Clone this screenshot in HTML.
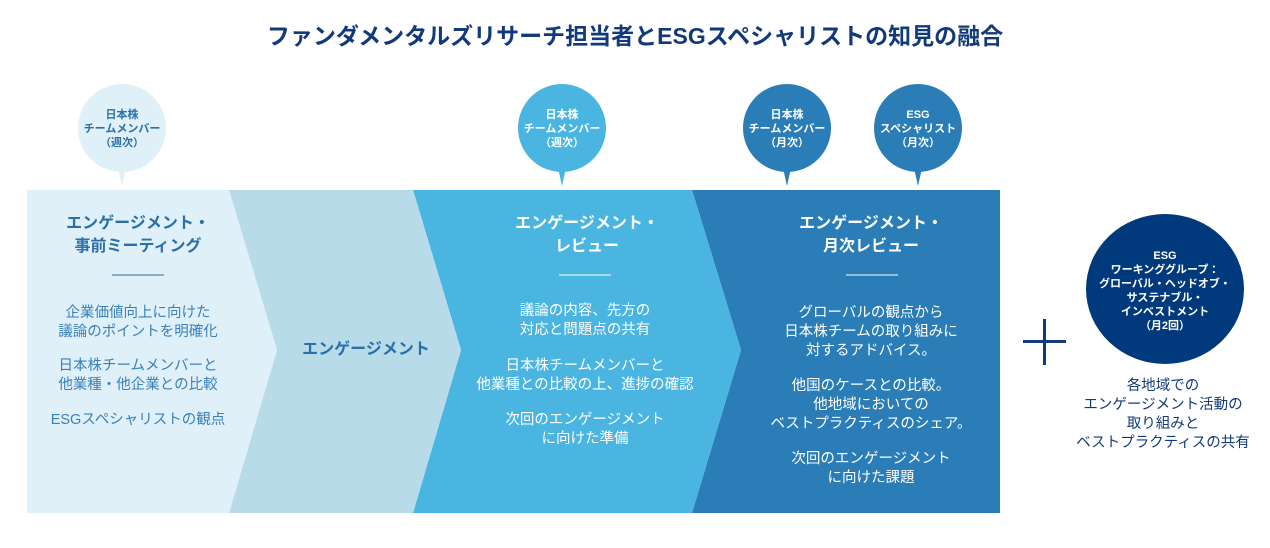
<!DOCTYPE html>
<html><head><meta charset="utf-8"><style>
body{margin:0;background:#fff;}
svg text{font-family:"Liberation Sans","Noto Sans CJK JP",sans-serif;}
</style></head><body>
<svg width="1270" height="543" viewBox="0 0 1270 543" xmlns="http://www.w3.org/2000/svg">
<text x="635" y="44" text-anchor="middle" font-size="23" font-weight="bold" fill="#12397a">ファンダメンタルズリサーチ担当者とESGスペシャリストの知見の融合</text>
<polygon points="692,190 1000,190 1000,513 692,513 741,350" fill="#2a7db7"/>
<polygon points="413,190 692,190 741,350 692,513 413,513 461,350" fill="#4bb5e2"/>
<polygon points="229,190 413,190 461,350 413,513 229,513 277,350" fill="#b8dbea"/>
<polygon points="27,190 229,190 277,350 229,513 27,513" fill="#dff0f8"/>
<g>
<circle cx="122" cy="128" r="44" fill="#dff0f8"/><polygon points="118,168 126,168 122,186" fill="#dff0f8"/>
<circle cx="562" cy="128" r="44" fill="#4bb5e2"/><polygon points="558,168 566,168 562,186" fill="#4bb5e2"/>
<circle cx="787" cy="128" r="44" fill="#2a7db7"/><polygon points="783,168 791,168 787,186" fill="#2a7db7"/>
<circle cx="918" cy="128" r="44" fill="#2a7db7"/><polygon points="914,168 922,168 918,186" fill="#2a7db7"/>
</g>
<g font-size="11" font-weight="bold" text-anchor="middle">
<g fill="#2a6fa8"><text x="122" y="118">日本株</text><text x="122" y="132">チームメンバー</text><text x="122" y="146">（週次）</text></g>
<g fill="#fff"><text x="562" y="118">日本株</text><text x="562" y="132">チームメンバー</text><text x="562" y="146">（週次）</text>
<text x="787" y="118">日本株</text><text x="787" y="132">チームメンバー</text><text x="787" y="146">（月次）</text>
<text x="918" y="118">ESG</text><text x="918" y="132">スペシャリスト</text><text x="918" y="146">（月次）</text></g>
</g>
<g font-size="16" font-weight="bold" text-anchor="middle">
<g fill="#2a6fa8"><text x="138" y="228">エンゲージメント・</text><text x="138" y="251">事前ミーティング</text>
<text x="366" y="354">エンゲージメント</text></g>
<g fill="#fff"><text x="587" y="228">エンゲージメント・</text><text x="587" y="251">レビュー</text>
<text x="871" y="228">エンゲージメント・</text><text x="871" y="251">月次レビュー</text></g>
</g>
<line x1="112" y1="275" x2="164" y2="275" stroke="#2a6fa8" stroke-width="1"/>
<line x1="559" y1="275" x2="611" y2="275" stroke="#fff" stroke-width="1"/>
<line x1="846" y1="275" x2="898" y2="275" stroke="#fff" stroke-width="1"/>
<g font-size="14.5" text-anchor="middle">
<g fill="#3a80bb"><text x="138" y="317">企業価値向上に向けた</text><text x="138" y="336">議論のポイントを明確化</text>
<text x="138" y="370">日本株チームメンバーと</text><text x="138" y="389">他業種・他企業との比較</text>
<text x="138" y="424">ESGスペシャリストの観点</text></g>
<g fill="#fff"><text x="585" y="315">議論の内容、先方の</text><text x="585" y="334">対応と問題点の共有</text>
<text x="585" y="370">日本株チームメンバーと</text><text x="585" y="389">他業種との比較の上、進捗の確認</text>
<text x="585" y="424">次回のエンゲージメント</text><text x="585" y="443">に向けた準備</text>
<text x="871" y="317">グローバルの観点から</text><text x="871" y="336">日本株チームの取り組みに</text><text x="871" y="355">対するアドバイス。</text>
<text x="871" y="390">他国のケースとの比較。</text><text x="871" y="409">他地域においての</text><text x="871" y="428">ベストプラクティスのシェア。</text>
<text x="871" y="463">次回のエンゲージメント</text><text x="871" y="482">に向けた課題</text></g>
</g>
<rect x="1023" y="340" width="43" height="3" fill="#12397a"/>
<rect x="1043" y="319" width="3" height="46" fill="#12397a"/>
<ellipse cx="1165" cy="289" rx="79" ry="75" fill="#003a7d"/>
<g font-size="11" font-weight="bold" text-anchor="middle" fill="#fff">
<text x="1165" y="259">ESG</text><text x="1165" y="273">ワーキンググループ：</text><text x="1165" y="287">グローバル・ヘッドオブ・</text><text x="1165" y="301">サステナブル・</text><text x="1165" y="315">インベストメント</text><text x="1165" y="329">（月2回）</text>
</g>
<g font-size="14.5" text-anchor="middle" fill="#12397a">
<text x="1163" y="390">各地域での</text><text x="1163" y="409">エンゲージメント活動の</text><text x="1163" y="428">取り組みと</text><text x="1163" y="447">ベストプラクティスの共有</text>
</g>
</svg>
</body></html>
